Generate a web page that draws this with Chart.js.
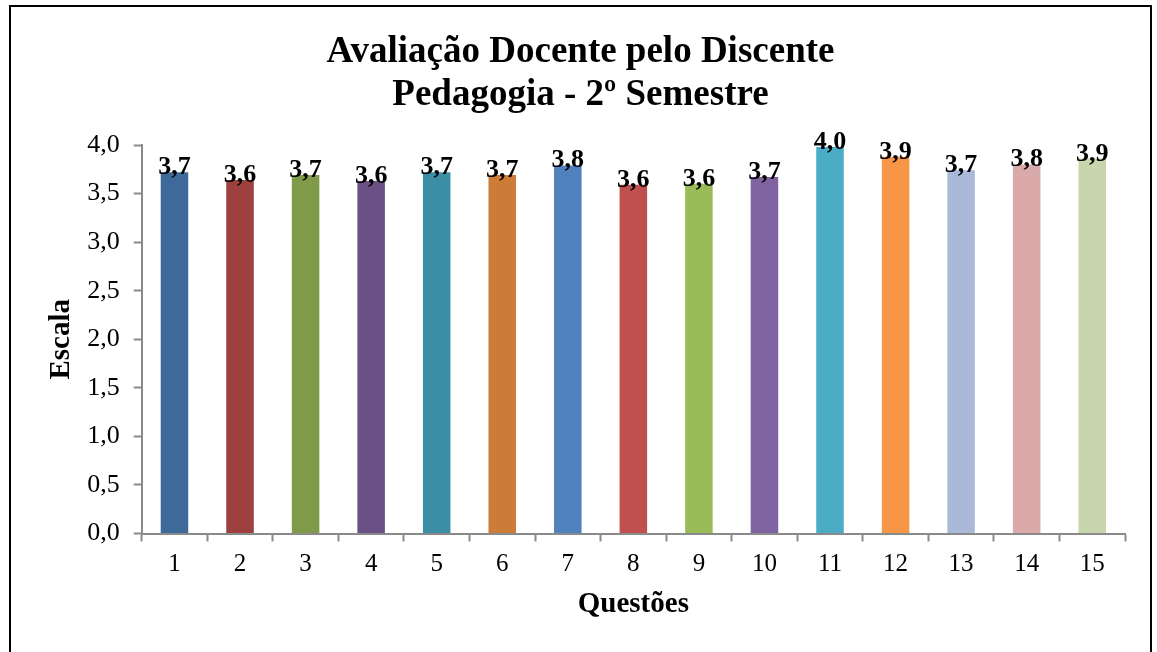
<!DOCTYPE html>
<html>
<head>
<meta charset="utf-8">
<title>Avaliação Docente pelo Discente</title>
<script src="https://cdn.jsdelivr.net/npm/chart.js@4.4.0/dist/chart.umd.min.js"></script>
<style>
    html, body { margin: 0; padding: 0; background: #fff; }
    #wrap { width: 1157px; height: 652px; position: relative; }
</style>
</head>
<body>
<div id="wrap"><canvas id="chart"></canvas></div>
<script>
// data
const questoes = ['1', '2', '3', '4', '5', '6', '7', '8', '9', '10', '11', '12', '13', '14', '15'];
const medias = [3.72, 3.64, 3.69, 3.63, 3.72, 3.69, 3.79, 3.59, 3.60, 3.67, 3.98, 3.88, 3.74, 3.80, 3.86];
const cores = ['#3E6A9A', '#9E413E', '#7F9A48', '#6A5085', '#3B8EA5', '#CD7C38',
               '#4F81BD', '#C0504D', '#9BBB59', '#8064A2', '#4BACC6', '#F79646',
               '#AAB9D7', '#D9AAA9', '#C7D6AD'];
const tituloLinhas = ['Avaliação Docente pelo Discente', 'Pedagogia - 2º Semestre'];

const serif = "'Liberation Serif', 'Times New Roman', serif";

function virgula(v) {
    return v.toFixed(1).replace('.', ',');
}

// outer frame + two-line title centred on the frame
const framePlugin = {
    id: 'frame',
    beforeDraw(chart) {
        const ctx = chart.ctx;
        ctx.save();
        ctx.strokeStyle = '#000';
        ctx.lineWidth = 2;
        ctx.strokeRect(10, 6, 1141, 700);
        ctx.font = 'bold 37px ' + serif;
        ctx.fillStyle = '#000';
        ctx.textAlign = 'center';
        ctx.textBaseline = 'middle';
        tituloLinhas.forEach(function(t, i) {
            ctx.fillText(t, 580.5, 52 + i * 43);
        });
        ctx.restore();
    }
};

// value labels on top of each bar
const labelPlugin = {
    id: 'valueLabels',
    afterDatasetsDraw(chart) {
        const ctx = chart.ctx;
        const meta = chart.getDatasetMeta(0);
        ctx.save();
        ctx.font = 'bold 26px ' + serif;
        ctx.fillStyle = '#000';
        ctx.textAlign = 'center';
        ctx.textBaseline = 'alphabetic';
        meta.data.forEach(function(bar, i) {
            ctx.fillText(virgula(medias[i]), bar.x, bar.y + 2);
        });
        ctx.restore();
    }
};

new Chart(document.getElementById('chart'), {
    type: 'bar',
    data: {
        labels: questoes,
        datasets: [{
            data: medias,
            backgroundColor: cores,
            borderWidth: 0,
            barPercentage: 0.42,
            categoryPercentage: 1.0
        }]
    },
    options: {
        responsive: true,
        maintainAspectRatio: false,
        animation: false,
        layout: { padding: { left: 10, right: 32, top: 145, bottom: 0 } },
        plugins: {
            legend: { display: false },
            tooltip: { enabled: false },
            title: { display: false }
        },
        scales: {
            x: {
                afterFit(scale) { scale.height = 652 - 533.5; },
                grid: {
                    display: true,
                    drawOnChartArea: false,
                    drawTicks: true,
                    tickLength: 8,
                    tickWidth: 2,
                    color: '#8a8a8a'
                },
                border: { display: true, color: '#8a8a8a', width: 2 },
                ticks: {
                    color: '#000',
                    padding: 8,
                    font: { family: serif, size: 25 }
                },
                title: {
                    display: true,
                    text: 'Questões',
                    color: '#000',
                    font: { family: serif, size: 29, weight: 'bold', lineHeight: 1.2 },
                    padding: { top: 0, bottom: 30 }
                }
            },
            y: {
                min: 0,
                max: 4,
                afterFit(scale) { scale.width = 141.7 - 10; },
                grid: {
                    display: true,
                    drawOnChartArea: false,
                    drawTicks: true,
                    tickLength: 8,
                    tickWidth: 2,
                    color: '#8a8a8a'
                },
                border: { display: true, color: '#8a8a8a', width: 2 },
                ticks: {
                    stepSize: 0.5,
                    color: '#000',
                    padding: 14,
                    font: { family: serif, size: 26 },
                    callback: function(v) { return virgula(v); }
                },
                title: {
                    display: true,
                    text: 'Escala',
                    color: '#000',
                    font: { family: serif, size: 29, weight: 'bold', lineHeight: 1.2 },
                    padding: { top: 34, bottom: 0 }
                }
            }
        }
    },
    plugins: [framePlugin, labelPlugin]
});
</script>
</body>
</html>
